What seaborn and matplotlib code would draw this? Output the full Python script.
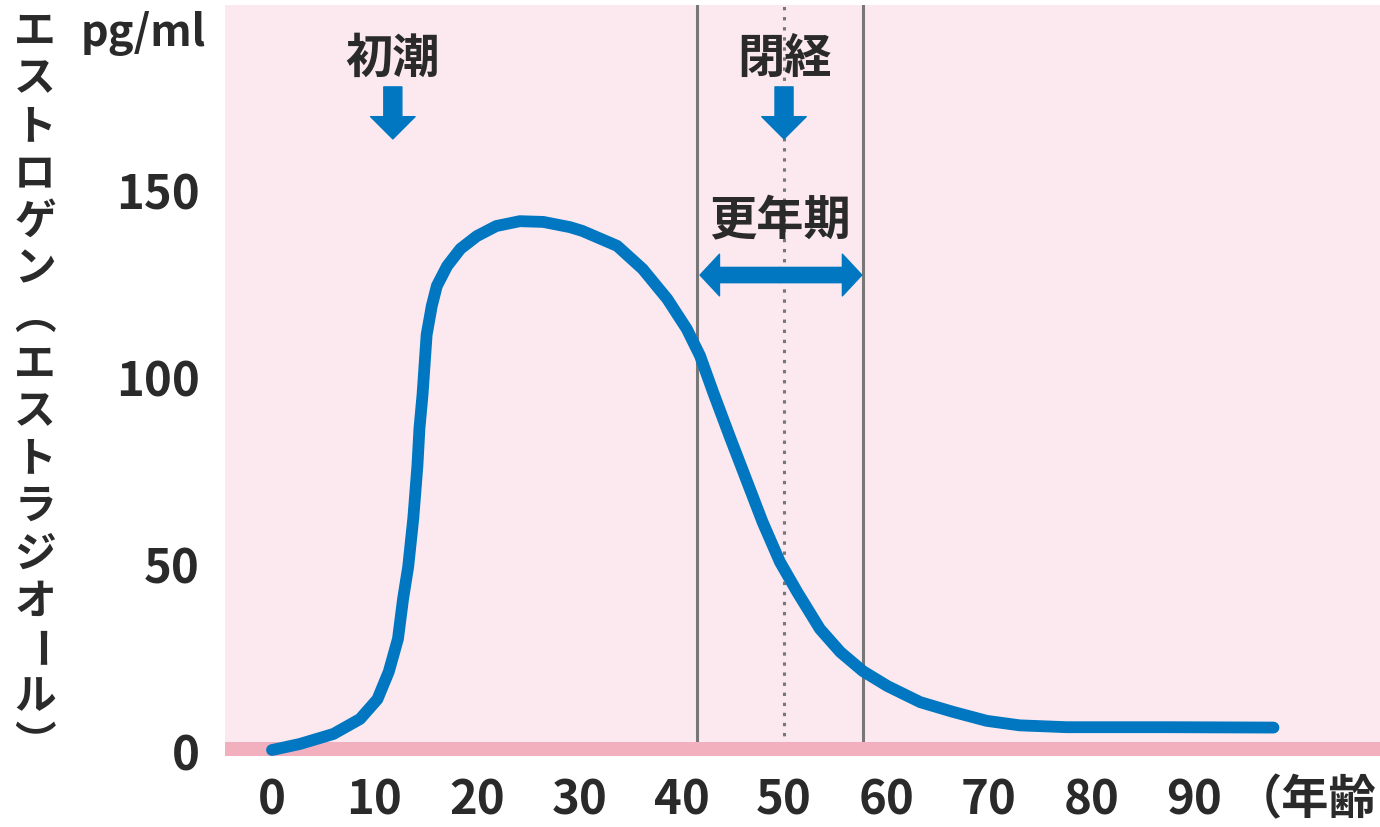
import matplotlib
matplotlib.use('Agg')
import matplotlib.pyplot as plt
import seaborn as sns
import pandas as pd

# estrogen level by age
ages = [0, 2.7, 6.0, 8.6, 10.3, 11.4, 12.3, 12.8, 13.3, 13.8, 14.2, 14.4, 14.7, 14.9,
        15.1, 15.6, 16.1, 17.1, 18.4, 20.0, 21.9, 24.2, 26.5, 29.1, 30.3, 33.7, 36.2,
        38.6, 40.5, 41.8, 43.1, 44.7, 46.4, 47.9, 49.6, 51.3, 53.5, 55.5, 57.7, 60.1,
        63.3, 66.5, 69.8, 73.0, 77.6, 87.4, 97.8]
estrogen = [0, 1.6, 4.3, 8.3, 13.6, 20.9, 29.7, 40.4, 49.0, 62.0, 76.0, 86.0, 95.0, 103.0,
            111.0, 118.7, 124.1, 129.4, 134.0, 137.4, 140.1, 141.4, 141.2, 139.8, 138.8, 134.8, 128.6,
            120.6, 112.6, 105.4, 95.5, 83.8, 71.7, 61.0, 50.3, 42.2, 32.4, 26.2, 21.1, 17.1,
            12.8, 10.2, 7.8, 6.6, 6.1, 6.1, 6.0]

x_ticks = [0, 10, 20, 30, 40, 50, 60, 70, 80, 90]
y_ticks = [0, 50, 100, 150]

menarche_age = 11.8
menopause_age = 50
climacteric_start = 41.5
climacteric_end = 57.7

# vertical axis title, written top to bottom (vertical forms of the brackets)
ylabel_chars = list('エストロゲン︵エストラジオール︶')

df = pd.DataFrame({'age': ages, 'estrogen': estrogen})

sns.set_style('white')
plt.rcParams['font.family'] = ['Noto Sans CJK JP', 'DejaVu Sans']

blue = '#0077c0'
text_col = '#2a2a2a'
grey = '#777777'

fig = plt.figure(figsize=(13.8, 8.28), dpi=100)
ax = fig.add_axes([0.16304, 0.08575, 0.83696, 0.90700])
ax.set_facecolor('#fce9f0')

# menopause / climacteric guides
ax.axvline(climacteric_start, color=grey, lw=2.2, zorder=1)
ax.axvline(climacteric_end, color=grey, lw=2.2, zorder=1)
ax.axvline(menopause_age, color=grey, lw=2.2, linestyle=(0, (1.1, 2.2)), zorder=1)

# pink base band
ax.axhspan(-1.6, 2.14, color='#f2b0be', lw=0, zorder=2)

# the curve
sns.lineplot(data=df, x='age', y='estrogen', color=blue, linewidth=8.5,
             sort=False, ax=ax, zorder=3)
ax.lines[-1].set_solid_capstyle('round')
ax.lines[-1].set_solid_joinstyle('round')

ax.set_xlim(-4.59, 108.2)
ax.set_ylim(-1.6, 199.2)
ax.set_xticks(x_ticks)
ax.set_yticks(y_ticks)
ax.tick_params(axis='both', length=0, labelsize=34, colors=text_col)
ax.tick_params(axis='x', pad=14)
ax.tick_params(axis='y', pad=18)
for lbl in ax.get_xticklabels() + ax.get_yticklabels():
    lbl.set_fontweight('bold')
ax.set_xlabel('')
ax.set_ylabel('')
for s in ax.spines.values():
    s.set_visible(False)

# annotations
arrow_simple = dict(arrowstyle='simple,head_length=1.6,head_width=3.2,tail_width=1.3',
                    color=blue, shrinkA=0, shrinkB=0, mutation_scale=10)
ax.text(menarche_age, 185, '初潮', ha='center', va='center', fontsize=34,
        fontweight='bold', color=text_col, zorder=4)
ax.annotate('', xy=(menarche_age, 163.4), xytext=(menarche_age, 177.3),
            arrowprops=arrow_simple, zorder=4)

ax.text(menopause_age, 185, '閉経', ha='center', va='center', fontsize=34,
        fontweight='bold', color=text_col, zorder=4)
ax.annotate('', xy=(menopause_age, 163.4), xytext=(menopause_age, 177.3),
            arrowprops=arrow_simple, zorder=4)

ax.text(49.6, 141.7, '更年期', ha='center', va='center', fontsize=34,
        fontweight='bold', color=text_col, zorder=4)
arrow_double = dict(arrowstyle='simple,head_length=1.4,head_width=3.0,tail_width=1.1',
                    color=blue, shrinkA=0, shrinkB=0, mutation_scale=10)
ax.annotate('', xy=(climacteric_start + 0.3, 127), xytext=(49.6, 127),
            arrowprops=arrow_double, zorder=4)
ax.annotate('', xy=(climacteric_end - 0.1, 127), xytext=(49.6, 127),
            arrowprops=arrow_double, zorder=4)

# unit and axis labels
fig.text(143 / 1380, 1 - 33 / 828, 'pg/ml', ha='center', va='center', fontsize=31,
         fontweight='bold', color=text_col)
fig.text(1235 / 1380, 1 - 800 / 828, '（年齢', ha='left', va='center', fontsize=34,
         fontweight='bold', color=text_col)

for i, ch in enumerate(ylabel_chars):
    rot = -90 if ch == 'ー' else 0
    fig.text(35 / 1380, 1 - (32 + i * 47.5) / 828, ch, ha='center', va='center',
             fontsize=30, fontweight='bold', color=text_col, rotation=rot,
             rotation_mode='anchor')

fig.savefig('out.png', dpi=100, facecolor='white')
